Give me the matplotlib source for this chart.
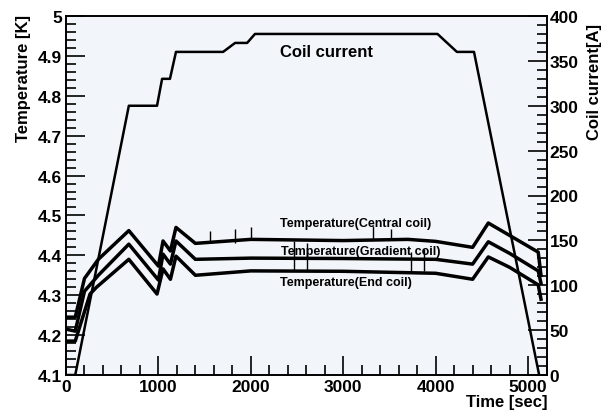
import matplotlib
matplotlib.use('Agg')
import matplotlib.pyplot as plt
from matplotlib.ticker import MultipleLocator

plt.rcParams['font.family'] = ['Liberation Sans', 'DejaVu Sans']
plt.rcParams['font.weight'] = 'bold'

# coil current [A]
cur_t = [0, 100, 680, 985, 1040, 1125, 1190, 1700, 1830, 1960, 2045, 4020, 4230, 4415, 5120]
cur_a = [0, 0, 300, 300, 330, 330, 360, 360, 370, 370, 380, 380, 360, 360, 0]

# temperatures [K]
cen_t = [0, 100, 200, 350, 680, 1000, 1050, 1130, 1190, 1400, 2000, 3000, 3700, 4000, 4400, 4570, 4800, 5110, 5140]
cen_T = [4.245, 4.245, 4.342, 4.39, 4.462, 4.373, 4.436, 4.411, 4.47, 4.43, 4.44, 4.437, 4.44, 4.435, 4.42, 4.481, 4.45, 4.408, 4.35]

gra_t = [0, 100, 200, 350, 680, 1000, 1050, 1130, 1190, 1400, 2000, 3000, 4000, 4400, 4570, 4800, 5110, 5140]
gra_T = [4.215, 4.21, 4.31, 4.35, 4.428, 4.338, 4.403, 4.378, 4.436, 4.39, 4.393, 4.392, 4.39, 4.378, 4.434, 4.405, 4.361, 4.33]

end_t = [0, 100, 260, 330, 680, 985, 1050, 1130, 1190, 1400, 2000, 3000, 4000, 4400, 4570, 4800, 5110, 5140]
end_T = [4.185, 4.185, 4.303, 4.32, 4.39, 4.303, 4.366, 4.34, 4.398, 4.35, 4.361, 4.36, 4.355, 4.34, 4.396, 4.37, 4.326, 4.29]

# spikes seen on the temperature traces
spk_t = [1560, 1830, 2000, 2470, 2605, 3320, 3515, 3735, 3875]
spk_lo = [4.43, 4.43, 4.44, 4.36, 4.36, 4.44, 4.44, 4.36, 4.36]
spk_hi = [4.46, 4.466, 4.471, 4.436, 4.43, 4.474, 4.466, 4.409, 4.415]

fig = plt.figure(figsize=(6.15, 4.14), dpi=100)
ax = fig.add_axes([66 / 615, 1 - 376 / 414, 481 / 615, 359 / 414])
ax.set_facecolor('#f2f5f9')
ax2 = ax.twinx()

ax.plot(cen_t, cen_T, color='black', lw=2.5)
ax.plot(gra_t, gra_T, color='black', lw=2.5)
ax.plot(end_t, end_T, color='black', lw=2.5)
ax.vlines(spk_t, spk_lo, spk_hi, color='black', lw=1)
ax2.plot(cur_t, cur_a, color='black', lw=1.8)

ax.set_xlim(0, 5205)
ax.set_ylim(4.1, 5.0)
ax2.set_ylim(0, 400)

ax.xaxis.set_major_locator(MultipleLocator(1000))
ax.xaxis.set_minor_locator(MultipleLocator(200))
ax.yaxis.set_major_locator(MultipleLocator(0.1))
ax.yaxis.set_minor_locator(MultipleLocator(0.02))
ax2.yaxis.set_major_locator(MultipleLocator(50))
ax2.yaxis.set_minor_locator(MultipleLocator(10))

ax.tick_params(which='both', direction='in', top=False, right=False, labelsize=12.5, width=1.2)
ax.tick_params(which='major', length=14)
ax.tick_params(which='minor', length=7)
ax.tick_params(axis='x', pad=3)
ax.tick_params(axis='y', pad=3)
ax2.tick_params(which='both', direction='in', labelsize=12.5, width=1.2, pad=2)
ax2.tick_params(which='major', length=14)
ax2.tick_params(which='minor', length=7)
ax.set_yticklabels(['%g' % v for v in ax.get_yticks()])
for a in (ax, ax2):
    for s in a.spines.values():
        s.set_linewidth(1.2)

ax.text(2815, 4.912, 'Coil current', ha='center', va='center', fontsize=12, fontweight='bold')
ax.text(2316, 4.481, 'Temperature(Central coil)', ha='left', va='center', fontsize=9, fontweight='bold')
ax.text(2330, 4.411, 'Temperature(Gradient coil)', ha='left', va='center', fontsize=9, fontweight='bold')
ax.text(2316, 4.333, 'Temperature(End coil)', ha='left', va='center', fontsize=9, fontweight='bold')

fig.text(24 / 615, 1 - 15 / 414, 'Temperature [K]', rotation=90, ha='center', va='top', fontsize=12, fontweight='bold')
fig.text(594 / 615, 1 - 24 / 414, 'Coil current[A]', rotation=90, ha='center', va='top', fontsize=12, fontweight='bold')
fig.text(547 / 615, 1 - 403 / 414, 'Time [sec]', ha='right', va='center', fontsize=12, fontweight='bold')

fig.savefig('out.png', dpi=100)
